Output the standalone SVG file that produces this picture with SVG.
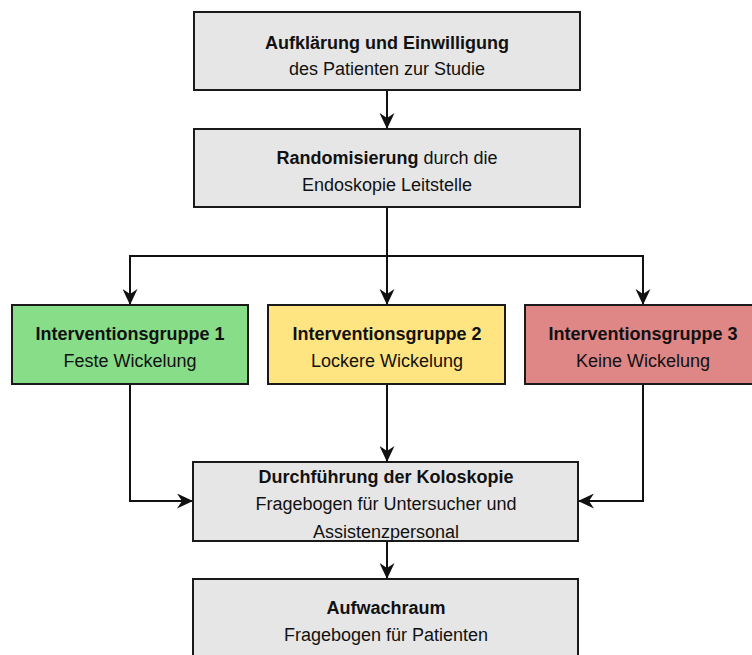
<svg xmlns="http://www.w3.org/2000/svg" width="752" height="655" viewBox="0 0 752 655">
<style>
.box{stroke:#1a1a1a;stroke-width:2}
.gray{fill:#e6e6e6}
.green{fill:#88dd88}
.yellow{fill:#ffe482}
.red{fill:#df8686}
text{font-family:"Liberation Sans",Arial,sans-serif;font-size:18px;fill:#111;text-anchor:middle}
.b{font-weight:bold}
.conn{fill:none;stroke:#111;stroke-width:2}
</style>
<defs>
<marker id="arr" viewBox="0 0 16 15" refX="16" refY="7.5" markerWidth="16" markerHeight="15" markerUnits="userSpaceOnUse" orient="auto">
<path d="M0,0 L16,7.5 L0,15 L5,7.5 Z" fill="#111"/>
</marker>
</defs>
<g id="connectors">
<path class="conn" d="M387,90 V129" marker-end="url(#arr)"/>
<path class="conn" d="M387,207 V305" marker-end="url(#arr)"/>
<path class="conn" d="M387,256 H130 V305" marker-end="url(#arr)"/>
<path class="conn" d="M387,256 H643 V305" marker-end="url(#arr)"/>
<path class="conn" d="M387,384 V462" marker-end="url(#arr)"/>
<path class="conn" d="M130,384 V501 H193" marker-end="url(#arr)"/>
<path class="conn" d="M643,384 V501 H578" marker-end="url(#arr)"/>
<path class="conn" d="M387,541 V579" marker-end="url(#arr)"/>
</g>
<g id="aufklaerung">
<rect class="box gray" x="194" y="12" width="386" height="78"/>
<text class="b" x="387" y="49">Aufklärung und Einwilligung</text>
<text x="387" y="75">des Patienten zur Studie</text>
</g>
<g id="randomisierung">
<rect class="box gray" x="194" y="129" width="386" height="78"/>
<text x="387" y="164"><tspan class="b">Randomisierung</tspan> durch die</text>
<text x="387" y="191">Endoskopie Leitstelle</text>
</g>
<g id="gruppe1">
<rect class="box green" x="12" y="305" width="236" height="79"/>
<text class="b" x="130" y="340">Interventionsgruppe 1</text>
<text x="130" y="367">Feste Wickelung</text>
</g>
<g id="gruppe2">
<rect class="box yellow" x="268" y="305" width="237" height="79"/>
<text class="b" x="387" y="340">Interventionsgruppe 2</text>
<text x="387" y="367">Lockere Wickelung</text>
</g>
<g id="gruppe3">
<rect class="box red" x="525" y="305" width="237" height="79"/>
<text class="b" x="643" y="340">Interventionsgruppe 3</text>
<text x="643" y="367">Keine Wickelung</text>
</g>
<g id="koloskopie">
<rect class="box gray" x="193" y="462" width="385" height="79"/>
<text class="b" x="386" y="483">Durchführung der Koloskopie</text>
<text x="386" y="510">Fragebogen für Untersucher und</text>
<text x="386" y="538">Assistenzpersonal</text>
</g>
<g id="aufwachraum">
<rect class="box gray" x="193" y="579" width="385" height="90"/>
<text class="b" x="386" y="614">Aufwachraum</text>
<text x="386" y="641">Fragebogen für Patienten</text>
</g>
</svg>
